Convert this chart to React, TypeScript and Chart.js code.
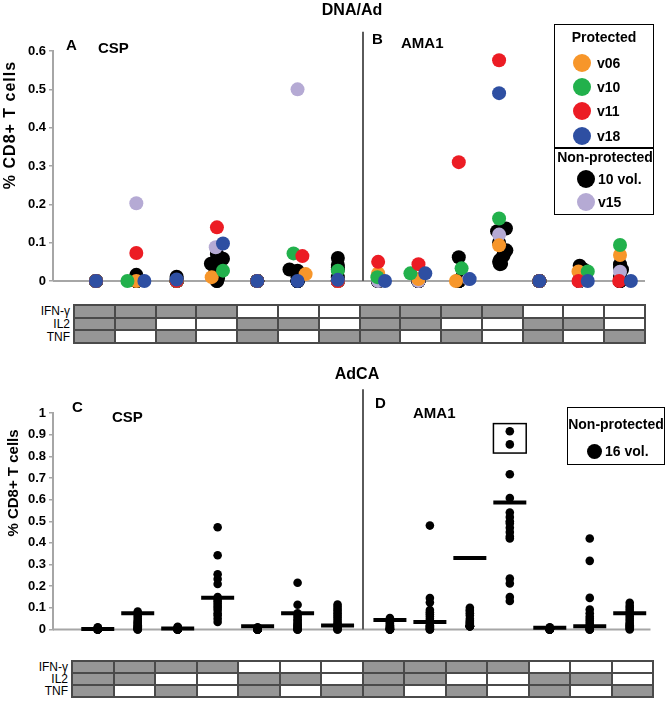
import React, { useEffect, useRef } from 'react';
import { Chart, registerables } from 'chart.js';

Chart.register(...registerables);

const FONT = '"Liberation Sans", Arial, Helvetica, sans-serif';

// ---- Cytokine combination table (7 CSP + 7 AMA1 columns) ----
const cytokineLabels = ['IFN-γ', 'IL2', 'TNF'];
const ifngOn = [1, 1, 1, 1, 0, 0, 0, 1, 1, 1, 1, 0, 0, 0];
const il2On = [1, 1, 0, 0, 1, 1, 0, 1, 1, 0, 0, 1, 1, 0];
const tnfOn = [1, 0, 1, 0, 1, 0, 1, 1, 0, 1, 0, 1, 0, 1];

// ---- Tick labels ----
const topYTicks = [0, 0.1, 0.2, 0.3, 0.4, 0.5, 0.6];
const bottomYTicks = [0, 0.1, 0.2, 0.3, 0.4, 0.5, 0.6, 0.7, 0.8, 0.9, 1];

// ---- Category slots on the x axis ----
const topSlots = [0, 1, 2, 3, 4, 5, 6, 7, 8, 9, 10, 11, 12, 13];
const bottomSlots = [0, 1, 2, 3, 4, 5, 6, 7.31, 8.31, 9.31, 10.31, 11.31, 12.31, 13.31];

// ---- DNA/Ad panel (A: CSP, B: AMA1) : one value per category, plus horizontal jitter ----
const v06 = [0, 0, 0, 0.01, 0, 0.018, 0, 0.02, 0.005, 0, 0.093, 0, 0.025, 0.068];
const v06Jit = [0, 0, 0, -0.13, 0, 0.2, 0, 0, 0, -0.07, 0, 0, -0.03, 0];
const v10 = [0, 0, 0, 0.027, 0, 0.072, 0.027, 0.01, 0.02, 0.033, 0.163, 0, 0.025, 0.094];
const v10Jit = [0, -0.22, 0, 0.15, 0, -0.1, 0, -0.02, -0.2, 0.07, 0, 0, 0.2, 0];
const v11 = [0, 0.073, 0, 0.14, 0, 0.065, 0, 0.05, 0.044, 0.31, 0.576, 0, 0, 0];
const v11Jit = [0, 0, 0, 0, 0, 0.12, 0, 0, 0, 0, 0, 0, -0.03, -0.02];
const v18 = [0, 0, 0.004, 0.098, 0, 0, 0.003, 0, 0.02, 0.005, 0.49, 0, 0, 0];
const v18Jit = [0, 0.2, 0, 0.15, 0, 0, 0, 0.17, 0.17, 0.27, 0, 0, 0.2, 0.27];
const v15 = [0, 0.203, 0, 0.088, 0, 0.5, 0, 0, 0, 0.005, 0.121, 0, 0, 0.024];
const v15Jit = [0, 0, 0, -0.03, 0, 0, 0, 0, 0, 0.25, 0, 0, 0, 0];

// 10 non-protected volunteers
const vol10 = [
  [0, 0, 0, 0, 0, 0, 0, 0, 0, 0],
  [0.016, 0, 0, 0, 0, 0, 0, 0, 0, 0],
  [0.011, 0.006, 0, 0, 0, 0, 0, 0, 0, 0],
  [0.058, 0.045, 0.062, 0.07, 0.035, 0.008, 0.02, 0.003, 0, 0],
  [0, 0, 0, 0, 0, 0, 0, 0, 0, 0],
  [0.03, 0.027, 0.02, 0.01, 0, 0, 0, 0, 0, 0],
  [0.06, 0.042, 0.035, 0.03, 0.01, 0, 0, 0, 0, 0],
  [0.005, 0, 0, 0, 0, 0, 0, 0, 0, 0],
  [0.004, 0, 0, 0, 0, 0, 0, 0, 0, 0],
  [0.062, 0.008, 0.004, 0, 0, 0, 0, 0, 0, 0],
  [0.137, 0.13, 0.08, 0.055, 0.044, 0.1, 0.065, 0.07, 0.05, 0.045],
  [0, 0, 0, 0, 0, 0, 0, 0, 0, 0],
  [0.04, 0.03, 0.02, 0, 0, 0, 0, 0, 0, 0],
  [0.044, 0.035, 0.03, 0.01, 0, 0, 0, 0, 0, 0],
];
const vol10Jit = [
  [0, 0, 0, 0, 0, 0, 0, 0, 0, 0],
  [0, 0, 0, 0, 0, 0, 0, 0, 0, 0],
  [0, 0, 0, 0, 0, 0, 0, 0, 0, 0],
  [0.15, -0.15, 0.02, 0, 0.05, 0.03, -0.05, 0, 0, 0],
  [0, 0, 0, 0, 0, 0, 0, 0, 0, 0],
  [-0.2, 0, 0.05, 0, 0, 0, 0, 0, 0, 0],
  [0, 0, 0, 0, 0, 0, 0, 0, 0, 0],
  [0, 0, 0, 0, 0, 0, 0, 0, 0, 0],
  [0, 0, 0, 0, 0, 0, 0, 0, 0, 0],
  [0, 0.07, 0.03, 0, 0, 0, 0, 0, 0, 0],
  [0.17, -0.05, 0.18, 0.02, 0.02, 0, 0.1, 0.12, 0, 0.05],
  [0, 0, 0, 0, 0, 0, 0, 0, 0, 0],
  [0, 0.1, 0, 0, 0, 0, 0, 0, 0, 0],
  [0, 0, 0.05, 0, 0, 0, 0, 0, 0, 0],
];

// ---- AdCA panel (C: CSP, D: AMA1): 16 non-protected volunteers ----
const adcaCsp = [
  [0.01, 0.008, 0.006, 0.005, 0.004, 0.003, 0.002, 0.002, 0.001, 0.001, 0, 0, 0, 0, 0, 0],
  [0.083, 0.07, 0.06, 0.05, 0.04, 0.035, 0.03, 0.025, 0.02, 0.015, 0.01, 0.008, 0.005, 0.003, 0, 0],
  [0.012, 0.01, 0.008, 0.006, 0.005, 0.004, 0.003, 0.002, 0.001, 0, 0, 0, 0, 0, 0, 0],
  [0.472, 0.343, 0.255, 0.233, 0.21, 0.15, 0.14, 0.13, 0.12, 0.11, 0.1, 0.09, 0.075, 0.065, 0.05, 0.035],
  [0.01, 0.008, 0.006, 0.005, 0.004, 0.003, 0.002, 0.001, 0, 0, 0, 0, 0, 0, 0, 0],
  [0.216, 0.114, 0.075, 0.065, 0.055, 0.045, 0.04, 0.03, 0.025, 0.02, 0.015, 0.01, 0.005, 0, 0, 0],
  [0.115, 0.105, 0.095, 0.085, 0.075, 0.065, 0.055, 0.045, 0.035, 0.025, 0.02, 0.015, 0.01, 0.005, 0, 0],
];
const adcaCspMeans = [0.002, 0.075, 0.005, 0.147, 0.015, 0.075, 0.018];
const adcaAma1 = [
  [0.053, 0.045, 0.04, 0.035, 0.03, 0.025, 0.02, 0.015, 0.01, 0.008, 0.005, 0.003, 0, 0, 0, 0],
  [0.48, 0.145, 0.125, 0.09, 0.08, 0.07, 0.06, 0.05, 0.04, 0.03, 0.02, 0.015, 0.01, 0.005, 0, 0],
  [0.1, 0.09, 0.085, 0.075, 0.065, 0.05, 0.04, 0.035, 0.03, 0.025, 0.02, 0.015, 0.015, 0.015, 0.015, 0.015],
  [0.916, 0.855, 0.717, 0.607, 0.54, 0.52, 0.5, 0.49, 0.47, 0.45, 0.43, 0.42, 0.235, 0.213, 0.15, 0.132],
  [0.01, 0.008, 0.005, 0.004, 0.003, 0.002, 0.001, 0, 0, 0, 0, 0, 0, 0, 0, 0],
  [0.42, 0.317, 0.146, 0.092, 0.075, 0.06, 0.05, 0.04, 0.03, 0.02, 0.015, 0.01, 0.005, 0, 0, 0],
  [0.123, 0.11, 0.1, 0.09, 0.08, 0.07, 0.06, 0.05, 0.04, 0.03, 0.025, 0.02, 0.015, 0.01, 0.005, 0],
];
const adcaAma1Means = [0.044, 0.035, 0.33, 0.587, 0.008, 0.015, 0.075];

const COLORS = {
  v06: '#F7962A',
  v10: '#22B14C',
  v11: '#EC1C24',
  v18: '#2E4FA2',
  vol: '#000000',
  v15: '#B5AAD4',
};

const AXIS_GRAY = '#A6A6A6';

const decorPlugin = {
  id: 'panelDecor',
  beforeDatasetsDraw(chart: any, _args: any, opts: any) {
    const { ctx, chartArea } = chart;
    const xs = chart.scales.x;
    const ys = chart.scales.y;
    const y0 = ys.getPixelForValue(0);
    ctx.save();
    ctx.strokeStyle = AXIS_GRAY;
    ctx.lineWidth = 2;
    ctx.beginPath();
    ctx.moveTo(chartArea.left, y0);
    ctx.lineTo(chartArea.right, y0);
    ctx.stroke();
    const dx = Math.round(xs.getPixelForValue(opts.dividerX));
    ctx.strokeStyle = '#5A5A5A';
    ctx.lineWidth = 2;
    ctx.beginPath();
    ctx.moveTo(dx, ys.getPixelForValue(opts.dividerTop));
    ctx.lineTo(dx, y0);
    ctx.stroke();
    ctx.restore();
  },
  afterDatasetsDraw(chart: any, _args: any, opts: any) {
    if (!opts.box) return;
    const { ctx } = chart;
    const xs = chart.scales.x;
    const ys = chart.scales.y;
    const b = opts.box;
    const x1 = xs.getPixelForValue(b.x - b.halfW);
    const x2 = xs.getPixelForValue(b.x + b.halfW);
    const y1 = ys.getPixelForValue(b.yTop);
    const y2 = ys.getPixelForValue(b.yBottom);
    ctx.save();
    ctx.strokeStyle = '#000';
    ctx.lineWidth = 1.5;
    ctx.strokeRect(x1, y1, x2 - x1, y2 - y1);
    ctx.restore();
  },
};

function makeOptions(ticks: number[], yMax: number, xMin: number, xMax: number, padding: any, decor: any) {
  return {
    responsive: false,
    animation: false,
    events: [],
    layout: { padding },
    plugins: {
      legend: { display: false },
      tooltip: { enabled: false },
      title: { display: false },
      panelDecor: decor,
    },
    scales: {
      x: { type: 'linear', display: false, min: xMin, max: xMax },
      y: {
        type: 'linear',
        min: 0,
        max: yMax,
        afterFit: (a: any) => {
          a.width = 53;
        },
        afterBuildTicks: (a: any) => {
          a.ticks = ticks.map((v) => ({ value: v }));
        },
        ticks: {
          autoSkip: false,
          color: '#000',
          padding: 3,
          font: { family: FONT, size: 13, weight: 'bold' },
          callback: (v: any) => String(v),
        },
        grid: { drawOnChartArea: false, drawTicks: true, tickLength: 4, color: AXIS_GRAY, lineWidth: 1.5 },
        border: { display: true, color: AXIS_GRAY, width: 2 },
      },
    },
  };
}

function singleSeries(vals: number[], jit: number[]) {
  return vals.map((v, i) => ({ x: topSlots[i] + jit[i], y: v }));
}

function dotDataset(data: any[], color: string, radius: number) {
  return {
    type: 'scatter',
    data,
    pointRadius: radius,
    pointBorderWidth: 0,
    pointBackgroundColor: color,
    pointBorderColor: color,
    clip: false,
  };
}

type TxtProps = {
  x: number;
  y: number;
  text: string;
  size?: number;
  bold?: boolean;
  align?: 'left' | 'center' | 'right';
  spacing?: number;
  rotate?: boolean;
};

function Txt({ x, y, text, size = 15, bold = true, align = 'left', spacing = 0, rotate = false }: TxtProps) {
  const tx = align === 'left' ? '0' : align === 'center' ? '-50%' : '-100%';
  return (
    <div
      style={{
        position: 'absolute',
        left: x,
        top: y,
        transform: rotate ? 'translate(-50%,-50%) rotate(-90deg)' : `translate(${tx},-50%)`,
        fontFamily: FONT,
        fontSize: size,
        fontWeight: bold ? 'bold' : 'normal',
        lineHeight: 1,
        whiteSpace: 'nowrap',
        letterSpacing: spacing,
        color: '#000',
      }}
    >
      {text}
    </div>
  );
}

function Dot({ x, y, r, color }: { x: number; y: number; r: number; color: string }) {
  return (
    <div
      style={{
        position: 'absolute',
        left: x - r,
        top: y - r,
        width: 2 * r,
        height: 2 * r,
        borderRadius: '50%',
        background: color,
      }}
    />
  );
}

function CytokineTable({ left, top, width, height, labelRight }: { left: number; top: number; width: number; height: number; labelRight: number }) {
  const rows = [ifngOn, il2On, tnfOn];
  const colW = width / ifngOn.length;
  const rowH = height / rows.length;
  const line = 2;
  const cells: any[] = [];
  rows.forEach((row, r) =>
    row.forEach((on, c) => {
      cells.push(
        <div
          key={`${r}-${c}`}
          style={{
            position: 'absolute',
            left: Math.round(c * colW) + line,
            top: Math.round(r * rowH) + line,
            width: Math.round((c + 1) * colW) - Math.round(c * colW) - line,
            height: Math.round((r + 1) * rowH) - Math.round(r * rowH) - line,
            background: on ? '#969696' : '#ffffff',
          }}
        />
      );
    })
  );
  return (
    <>
      <div
        style={{
          position: 'absolute',
          left: left - 1,
          top: top - 1,
          width: Math.round(width) + line,
          height: Math.round(height) + line,
          background: '#4A4A4A',
        }}
      >
        {cells}
      </div>
      {cytokineLabels.map((lab, r) => (
        <Txt key={lab} x={labelRight} y={top + (r + 0.5) * rowH} text={lab} size={12} bold={false} align="right" />
      ))}
    </>
  );
}

export default function App() {
  const topRef = useRef<HTMLCanvasElement | null>(null);
  const botRef = useRef<HTMLCanvasElement | null>(null);

  useEffect(() => {
    const blackPts = vol10.flatMap((arr, i) => arr.map((v, k) => ({ x: topSlots[i] + vol10Jit[i][k], y: v })));
    const topChart = new Chart(topRef.current as HTMLCanvasElement, {
      type: 'scatter',
      data: {
        datasets: [
          dotDataset(singleSeries(v18, v18Jit), COLORS.v18, 7),
          dotDataset(singleSeries(v11, v11Jit), COLORS.v11, 7),
          dotDataset(singleSeries(v10, v10Jit), COLORS.v10, 7),
          dotDataset(singleSeries(v06, v06Jit), COLORS.v06, 7),
          dotDataset(singleSeries(v15, v15Jit), COLORS.v15, 7),
          dotDataset(blackPts, COLORS.vol, 7),
        ] as any,
      },
      options: makeOptions(topYTicks, 0.6, -1.067, 13.62, { top: 51, bottom: 19, right: 26, left: 0 }, {
        dividerX: 6.62,
        dividerTop: 0.65,
      }) as any,
      plugins: [decorPlugin as any],
    });

    const allBottom = [...adcaCsp, ...adcaAma1];
    const allMeans = [...adcaCspMeans, ...adcaAma1Means];
    const dotPts = allBottom.flatMap((arr, i) => arr.map((v) => ({ x: bottomSlots[i], y: v })));
    const meanPts = allMeans.map((v, i) => ({ x: bottomSlots[i], y: v }));
    const botChart = new Chart(botRef.current as HTMLCanvasElement, {
      type: 'scatter',
      data: {
        datasets: [
          {
            type: 'scatter',
            data: meanPts,
            pointStyle: 'line',
            pointRadius: 16.5,
            pointBorderWidth: 4,
            pointBorderColor: '#000',
            pointBackgroundColor: '#000',
            clip: false,
          },
          dotDataset(dotPts, '#000', 4.3),
        ] as any,
      },
      options: makeOptions(bottomYTicks, 1, -1.12, 13.83, { top: 53, bottom: 10, right: 17, left: 0 }, {
        dividerX: 6.64,
        dividerTop: 1.11,
        box: { x: bottomSlots[10], halfW: 0.41, yTop: 0.951, yBottom: 0.815 },
      }) as any,
      plugins: [decorPlugin as any],
    });

    return () => {
      topChart.destroy();
      botChart.destroy();
    };
  }, []);

  return (
    <div style={{ position: 'absolute', left: 0, top: 0, width: 671, height: 703, background: '#fff', overflow: 'hidden' }}>
      <canvas ref={topRef} width={671} height={300} style={{ position: 'absolute', left: 0, top: 0 }} />
      <canvas ref={botRef} width={671} height={290} style={{ position: 'absolute', left: 0, top: 360 }} />

      {/* Top panel texts */}
      <Txt x={352} y={10} text="DNA/Ad" size={16} align="center" />
      <Txt x={66} y={44} text="A" size={15} />
      <Txt x={98} y={47} text="CSP" size={15} />
      <Txt x={372} y={38} text="B" size={15} />
      <Txt x={401} y={42} text="AMA1" size={15} />
      <Txt x={10} y={125} text="% CD8+ T cells" size={16} spacing={1} rotate />

      {/* Top legend */}
      <div style={{ position: 'absolute', left: 554, top: 24, width: 100, height: 191, border: '1.5px solid #000', boxSizing: 'border-box' }} />
      <div style={{ position: 'absolute', left: 554, top: 147, width: 100, height: 1.5, background: '#000' }} />
      <Txt x={604} y={37} text="Protected" size={14} align="center" />
      <Dot x={582} y={63} r={9} color={COLORS.v06} />
      <Txt x={597} y={63} text="v06" size={14} />
      <Dot x={582} y={87} r={9} color={COLORS.v10} />
      <Txt x={597} y={87} text="v10" size={14} />
      <Dot x={582} y={111} r={9} color={COLORS.v11} />
      <Txt x={597} y={111} text="v11" size={14} />
      <Dot x={582} y={136} r={9} color={COLORS.v18} />
      <Txt x={597} y={136} text="v18" size={14} />
      <Txt x={605} y={157} text="Non-protected" size={14} align="center" />
      <Dot x={586} y={179} r={9} color={COLORS.vol} />
      <Txt x={598} y={179} text="10 vol." size={14} />
      <Dot x={586} y={202} r={9} color={COLORS.v15} />
      <Txt x={598} y={202} text="v15" size={14} />

      <CytokineTable left={74} top={305} width={571} height={38} labelRight={70} />

      {/* Bottom panel texts */}
      <Txt x={357} y={374} text="AdCA" size={16} align="center" />
      <Txt x={72} y={406} text="C" size={15} />
      <Txt x={112} y={416} text="CSP" size={15} />
      <Txt x={375} y={402} text="D" size={15} />
      <Txt x={413} y={412} text="AMA1" size={15} />
      <Txt x={12} y={483} text="% CD8+ T cells" size={15} rotate />

      {/* Bottom legend */}
      <div style={{ position: 'absolute', left: 567, top: 407, width: 98, height: 58, border: '1.5px solid #000', boxSizing: 'border-box' }} />
      <Txt x={616} y={424} text="Non-protected" size={14} align="center" />
      <Dot x={594} y={451} r={7.5} color="#000" />
      <Txt x={605} y={451} text="16 vol." size={14} />

      <CytokineTable left={72} top={661} width={581} height={36} labelRight={68} />
    </div>
  );
}
